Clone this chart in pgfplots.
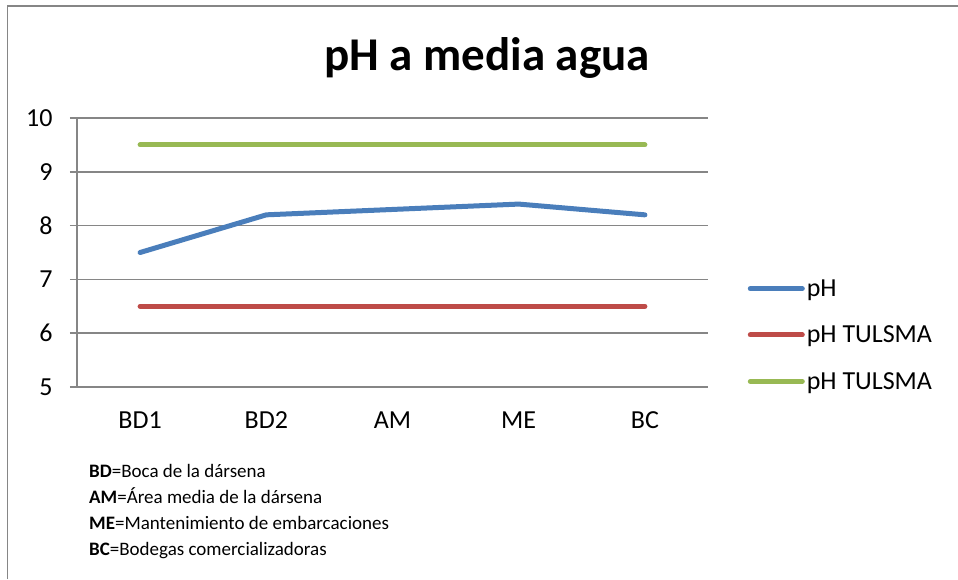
\documentclass[border=0pt]{standalone}
\usepackage{fontspec}
\setmainfont{Carlito}
\usepackage{pgfplots}
\pgfplotsset{compat=1.18}
\definecolor{phblue}{HTML}{4A7EBB}
\definecolor{phred}{HTML}{BE4B48}
\definecolor{phgreen}{HTML}{98B954}
\definecolor{gridgray}{HTML}{868686}

\begin{document}
\begin{tikzpicture}[x=1pt,y=1pt]
\path[use as bounding box] (0,0) rectangle (958,579);
% outer frame (only left and top edges are visible)
\draw[gridgray, line width=1.5pt] (7.5,0) -- (7.5,573) -- (958,573);
\node[font=\fontsize{47}{56}\selectfont\bfseries] at (487,521) {pH a media agua};

\begin{axis}[
  at={(77pt,192pt)}, anchor=south west,
  scale only axis, width=631pt, height=269pt,
  xmin=-0.5, xmax=4.5, ymin=5, ymax=10,
  xtick={0,...,4}, xticklabels={BD1,BD2,AM,ME,BC},
  ytick={5,...,10},
  axis lines*=left,
  axis line style={gridgray, line width=1.5pt},
  ymajorgrids, grid style={gridgray, line width=1.5pt},
  tick align=outside,
  y tick style={gridgray, line width=1.5pt}, major tick length=7pt,
  x tick style={draw=none},
  /pgf/number format/assume math mode=true,
  ticklabel style={font=\fontsize{26}{30}\selectfont},
  yticklabel style={xshift=-14pt},
  xticklabel style={yshift=-14pt},
  legend style={draw=none, fill=none, at={(rel axis cs:1.058,0.193)}, anchor=west,
    font=\fontsize{26}{30}\selectfont, row sep=24pt},
  legend cell align=left,
  legend image code/.code={\draw[#1, line width=5pt, line cap=round] (0pt,0pt) -- (52pt,0pt);},
]
\addplot[phblue, line width=5pt, line cap=round, line join=round] coordinates {(0,7.5) (1,8.2) (2,8.3) (3,8.4) (4,8.2)};
\addplot[phred, line width=5pt, line cap=round] coordinates {(0,6.5) (1,6.5) (2,6.5) (3,6.5) (4,6.5)};
\addplot[phgreen, line width=5pt, line cap=round] coordinates {(0,9.5) (1,9.5) (2,9.5) (3,9.5) (4,9.5)};
\legend{pH, pH TULSMA, pH TULSMA}
\end{axis}

\node[anchor=north west, align=left, inner sep=0pt, font=\fontsize{19}{26}\selectfont]
  at (89,115) {\textbf{BD}=Boca de la dársena\\
  \textbf{AM}=Área media de la dársena\\
  \textbf{ME}=Mantenimiento de embarcaciones\\
  \textbf{BC}=Bodegas comercializadoras};
\end{tikzpicture}
\end{document}
